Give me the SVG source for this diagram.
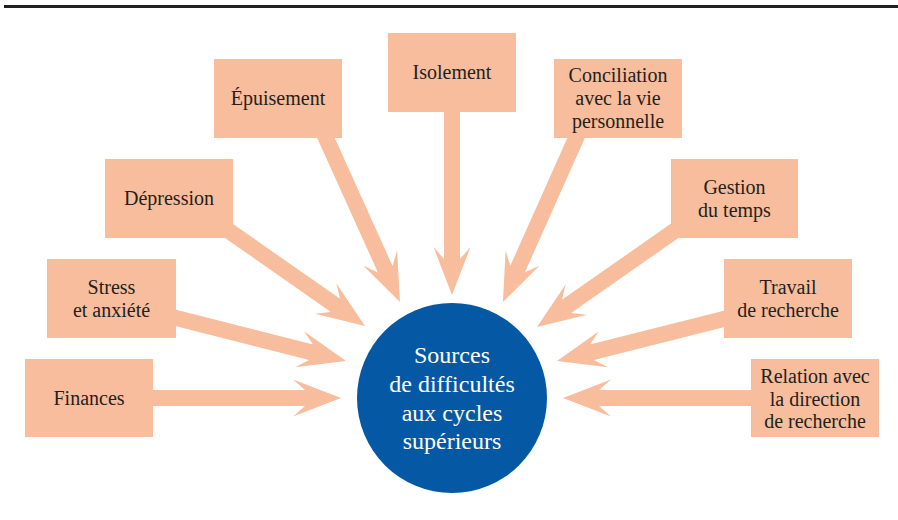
<svg xmlns="http://www.w3.org/2000/svg" width="898" height="520" viewBox="0 0 898 520">
<style>
.box{fill:#f8bd9c}
.lbl{font-family:'Liberation Serif','DejaVu Serif',serif;font-size:20px;fill:#231f20;text-anchor:middle}
.ctr{font-family:'Liberation Serif','DejaVu Serif',serif;font-size:24px;fill:#ffffff;text-anchor:middle}
.arr{stroke:#f8bd9c;stroke-width:16;fill:none;marker-end:url(#head)}
</style>
<defs>
<marker id="head" markerUnits="userSpaceOnUse" viewBox="-14 -20 52 40" markerWidth="52" markerHeight="40" refX="0" refY="0" orient="auto">
<path d="M36,0 L-12,-18.5 L0,-8 L-1.5,-8 L-1.5,8 L0,8 L-12,18.5 Z" fill="#f8bd9c"/>
</marker>
</defs>
<rect width="898" height="520" fill="#ffffff"/>
<line x1="4" y1="6.5" x2="898" y2="6.5" stroke="#231f20" stroke-width="3"/>
<g id="connectors">
<line class="arr" x1="143" y1="398" x2="305" y2="398"/>
<line class="arr" x1="166.3" y1="315.5" x2="311.1" y2="352.2"/>
<line class="arr" x1="217.4" y1="222.9" x2="335.5" y2="305.4"/>
<line class="arr" x1="321.9" y1="128.9" x2="385.2" y2="269.2"/>
<line class="arr" x1="452" y1="100" x2="452" y2="259"/>
<line class="arr" x1="580.1" y1="128.9" x2="517.6" y2="269.1"/>
<line class="arr" x1="684.6" y1="223.9" x2="566.5" y2="306.4"/>
<line class="arr" x1="733.7" y1="316.6" x2="591.9" y2="352.2"/>
<line class="arr" x1="761" y1="398" x2="599" y2="398"/>
</g>
<g id="finances"><rect class="box" x="25" y="359" width="128" height="78"/><text class="lbl" x="89" y="405">Finances</text></g>
<g id="stress"><rect class="box" x="47" y="259" width="129" height="79"/><text class="lbl" x="111.5" y="294">Stress</text><text class="lbl" x="111.5" y="317">et anxiété</text></g>
<g id="depression"><rect class="box" x="105" y="159" width="128" height="79"/><text class="lbl" x="169" y="205">Dépression</text></g>
<g id="epuisement"><rect class="box" x="214" y="59" width="128" height="79"/><text class="lbl" x="278" y="105">Épuisement</text></g>
<g id="isolement"><rect class="box" x="388" y="33" width="128" height="79"/><text class="lbl" x="452" y="79">Isolement</text></g>
<g id="conciliation"><rect class="box" x="554" y="59" width="128" height="79"/><text class="lbl" x="618" y="82">Conciliation</text><text class="lbl" x="618" y="105">avec la vie</text><text class="lbl" x="618" y="128">personnelle</text></g>
<g id="gestion"><rect class="box" x="671" y="159" width="127" height="79"/><text class="lbl" x="734.5" y="194">Gestion</text><text class="lbl" x="734.5" y="217">du temps</text></g>
<g id="travail"><rect class="box" x="724" y="259" width="128" height="79"/><text class="lbl" x="788" y="294">Travail</text><text class="lbl" x="788" y="317">de recherche</text></g>
<g id="relation"><rect class="box" x="751" y="359" width="128" height="78"/><text class="lbl" x="815" y="383">Relation avec</text><text class="lbl" x="815" y="405.5">la direction</text><text class="lbl" x="815" y="428">de recherche</text></g>
<g id="centre"><circle cx="452" cy="398" r="95" fill="#0558a4"/><text class="ctr" x="452" y="363">Sources</text><text class="ctr" x="452" y="392">de difficultés</text><text class="ctr" x="452" y="421">aux cycles</text><text class="ctr" x="452" y="449">supérieurs</text></g>
</svg>
